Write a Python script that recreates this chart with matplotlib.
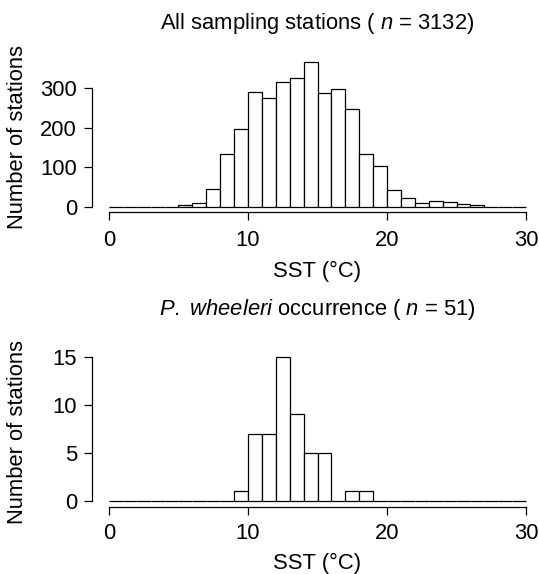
import matplotlib
matplotlib.use("Agg")
from matplotlib import pyplot as plt
import numpy as np

plt.rcParams["font.family"] = ["Liberation Sans", "DejaVu Sans"]
plt.rcParams["mathtext.fontset"] = "custom"
plt.rcParams["mathtext.rm"] = "Liberation Sans"
plt.rcParams["mathtext.it"] = "Liberation Sans:italic"

# 1 degree SST bins from 0 to 30
bin_edges = np.arange(0, 31)

all_counts = [0, 0, 0, 0, 0, 4, 10, 44, 134, 196, 290, 275, 315, 326, 366,
              287, 297, 247, 134, 103, 41, 22, 10, 14, 12, 6, 3, 0, 0, 0]
wheeleri_counts = [0, 0, 0, 0, 0, 0, 0, 0, 0, 1, 7, 7, 15, 9, 5,
                   5, 0, 1, 1, 0, 0, 0, 0, 0, 0, 0, 0, 0, 0, 0]

titles = [r"All sampling stations ( $\it{n}$ = 3132)",
          r"$\it{P.}$ $\it{wheeleri}$ occurrence ( $\it{n}$ = 51)"]
yticks = [[0, 100, 200, 300], [0, 5, 10, 15]]

W, H = 539, 574
fs = 15.8
fig = plt.figure(figsize=(W / 100, H / 100), dpi=100)

# pixel boxes of the plot regions: (left, top, right, bottom)
x0, x1 = 92.3, 542.7
boxes = [(x0, 56.2, x1, 212.3), (x0, 350.9, x1, 506.8)]
title_pads = [19.5, 25.5]
xlab_y = [261, 553]
tick_pads = [6.5, 5.5]

for i, counts in enumerate([all_counts, wheeleri_counts]):
    l, t, r, b = boxes[i]
    ax = fig.add_axes([l / W, 1 - b / H, (r - l) / W, (b - t) / H])
    ax.bar(bin_edges[:-1], counts, width=1, align="edge",
           facecolor="white", edgecolor="black", linewidth=0.9)
    top = max(counts)
    ax.set_xlim(-1.2, 31.2)
    ax.set_ylim(-0.04 * top, 1.04 * top)
    ax.set_xticks([0, 10, 20, 30])
    ax.set_yticks(yticks[i])
    for s in ["top", "right"]:
        ax.spines[s].set_visible(False)
    for s in ["left", "bottom"]:
        ax.spines[s].set_linewidth(0.9)
    ax.spines["left"].set_bounds(yticks[i][0], yticks[i][-1])
    ax.spines["bottom"].set_bounds(0, 30)
    ax.tick_params(axis="both", length=6, width=0.9, labelsize=fs)
    ax.tick_params(axis="x", pad=tick_pads[i])
    ax.tick_params(axis="y", pad=5)
    ax.set_title(titles[i], fontsize=fs, pad=title_pads[i])
    ax.set_ylabel("Number of stations", fontsize=fs)
    ax.yaxis.set_label_coords((28.3 - l) / (r - l), 0.48)
    ax.set_xlabel("SST (°C)", fontsize=fs, va="top")
    ax.xaxis.set_label_coords(0.5, (b - xlab_y[i]) / (b - t))

fig.savefig("out.png", dpi=100)
